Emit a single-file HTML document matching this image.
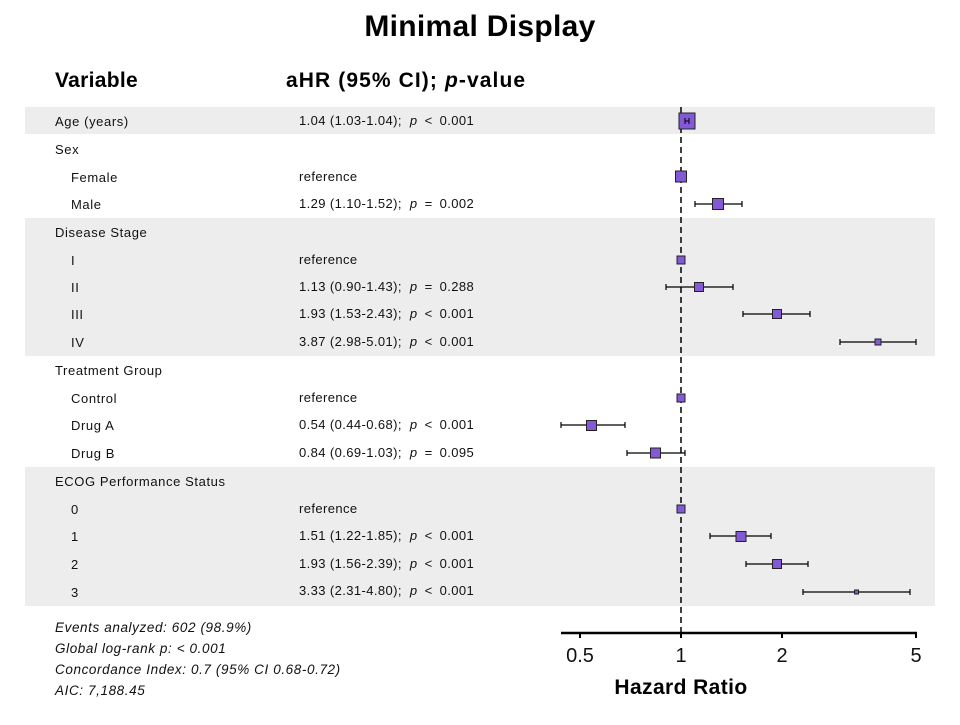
<!DOCTYPE html>
<html><head><meta charset="utf-8"><style>
body{margin:0;width:960px;height:720px;background:#fff;overflow:hidden}
svg text{font-family:"Liberation Sans",sans-serif}
</style></head><body>
<svg width="960" height="720" xmlns="http://www.w3.org/2000/svg">
<rect width="960" height="720" fill="#fff"/>
<text x="480" y="36" text-anchor="middle" font-size="30" font-weight="bold" letter-spacing="0.3">Minimal Display</text>
<text x="55" y="87" font-size="21" font-weight="bold" letter-spacing="0.3">Variable</text>
<text x="286" y="87" font-size="21" font-weight="bold" letter-spacing="1.1">aHR (95% CI); <tspan font-style="italic">p</tspan>-value</text>
<rect x="25" y="107" width="910" height="27" fill="#ededed"/>
<rect x="25" y="218" width="910" height="138" fill="#ededed"/>
<rect x="25" y="467" width="910" height="139" fill="#ededed"/>
<g font-size="13" fill="#111" letter-spacing="0.6">
<text x="55" y="126">Age (years)</text>
<text x="55" y="154">Sex</text>
<text x="71" y="182">Female</text>
<text x="71" y="209">Male</text>
<text x="55" y="237">Disease Stage</text>
<text x="71" y="265">I</text>
<text x="71" y="292">II</text>
<text x="71" y="319">III</text>
<text x="71" y="347">IV</text>
<text x="55" y="375">Treatment Group</text>
<text x="71" y="403">Control</text>
<text x="71" y="430">Drug A</text>
<text x="71" y="458">Drug B</text>
<text x="55" y="486">ECOG Performance Status</text>
<text x="71" y="514">0</text>
<text x="71" y="541">1</text>
<text x="71" y="569">2</text>
<text x="71" y="597">3</text>
</g>
<g font-size="13" fill="#111" letter-spacing="0.4">
<text x="299" y="125">1.04 (1.03-1.04);<tspan dx="8" font-style="italic">p</tspan><tspan dx="7">&lt;</tspan><tspan dx="7">0.001</tspan></text>
<text x="299" y="181">reference</text>
<text x="299" y="208">1.29 (1.10-1.52);<tspan dx="8" font-style="italic">p</tspan><tspan dx="7">=</tspan><tspan dx="7">0.002</tspan></text>
<text x="299" y="264">reference</text>
<text x="299" y="291">1.13 (0.90-1.43);<tspan dx="8" font-style="italic">p</tspan><tspan dx="7">=</tspan><tspan dx="7">0.288</tspan></text>
<text x="299" y="318">1.93 (1.53-2.43);<tspan dx="8" font-style="italic">p</tspan><tspan dx="7">&lt;</tspan><tspan dx="7">0.001</tspan></text>
<text x="299" y="346">3.87 (2.98-5.01);<tspan dx="8" font-style="italic">p</tspan><tspan dx="7">&lt;</tspan><tspan dx="7">0.001</tspan></text>
<text x="299" y="402">reference</text>
<text x="299" y="429">0.54 (0.44-0.68);<tspan dx="8" font-style="italic">p</tspan><tspan dx="7">&lt;</tspan><tspan dx="7">0.001</tspan></text>
<text x="299" y="457">0.84 (0.69-1.03);<tspan dx="8" font-style="italic">p</tspan><tspan dx="7">=</tspan><tspan dx="7">0.095</tspan></text>
<text x="299" y="513">reference</text>
<text x="299" y="540">1.51 (1.22-1.85);<tspan dx="8" font-style="italic">p</tspan><tspan dx="7">&lt;</tspan><tspan dx="7">0.001</tspan></text>
<text x="299" y="568">1.93 (1.56-2.39);<tspan dx="8" font-style="italic">p</tspan><tspan dx="7">&lt;</tspan><tspan dx="7">0.001</tspan></text>
<text x="299" y="595">3.33 (2.31-4.80);<tspan dx="8" font-style="italic">p</tspan><tspan dx="7">&lt;</tspan><tspan dx="7">0.001</tspan></text>
</g>
<line x1="681" y1="107" x2="681" y2="633" stroke="#000" stroke-width="1.5" stroke-dasharray="6,4"/>
<g stroke="#000" stroke-width="1.2">
<path d="M695 204H742M695 201v6M742 201v6"/>
<path d="M666 287H733M666 284v6M733 284v6"/>
<path d="M743 314H810M743 311v6M810 311v6"/>
<path d="M840 342H916M840 339v6M916 339v6"/>
<path d="M561 425H625M561 422v6M625 422v6"/>
<path d="M627 453H685M627 450v6M685 450v6"/>
<path d="M710 536H771M710 533v6M771 533v6"/>
<path d="M746 564H808M746 561v6M808 561v6"/>
<path d="M803 592H910M803 589v6M910 589v6"/>
</g>
<g fill="#8459d6" stroke="#222" stroke-width="1">
<rect x="679" y="113" width="16" height="16"/>
<rect x="675.5" y="171" width="11" height="11"/>
<rect x="712.5" y="198.5" width="11" height="11"/>
<rect x="677" y="256" width="8" height="8"/>
<rect x="694.5" y="282.5" width="9" height="9"/>
<rect x="772.5" y="309.5" width="9" height="9"/>
<rect x="875" y="339" width="6" height="6"/>
<rect x="677" y="394" width="8" height="8"/>
<rect x="586.5" y="420.5" width="10" height="10"/>
<rect x="650.5" y="448" width="10" height="10"/>
<rect x="677" y="505" width="8" height="8"/>
<rect x="736" y="531.5" width="10" height="10"/>
<rect x="772.5" y="559.5" width="9" height="9"/>
<rect x="854.5" y="590" width="4" height="4"/>
</g>
<path d="M685 118v6M689 118v6M685 121h4" stroke="#000" stroke-width="1"/>
<line x1="561" y1="633" x2="917" y2="633" stroke="#000" stroke-width="2.5"/>
<g stroke="#000" stroke-width="2"><path d="M580 633v5M681 633v5M782 633v5M916 633v5"/></g>
<g font-size="20" text-anchor="middle" fill="#111">
<text x="580" y="662">0.5</text><text x="681" y="662">1</text><text x="782" y="662">2</text><text x="916" y="662">5</text>
</g>
<text x="681" y="694" text-anchor="middle" font-size="21" font-weight="bold" letter-spacing="0.4">Hazard Ratio</text>
<g font-size="13.5" font-style="italic" fill="#111" letter-spacing="0.6">
<text x="55" y="632">Events analyzed: 602 (98.9%)</text>
<text x="55" y="653">Global log-rank p: &lt; 0.001</text>
<text x="55" y="674">Concordance Index: 0.7 (95% CI 0.68-0.72)</text>
<text x="55" y="695">AIC: 7,188.45</text>
</g>
</svg>
</body></html>
